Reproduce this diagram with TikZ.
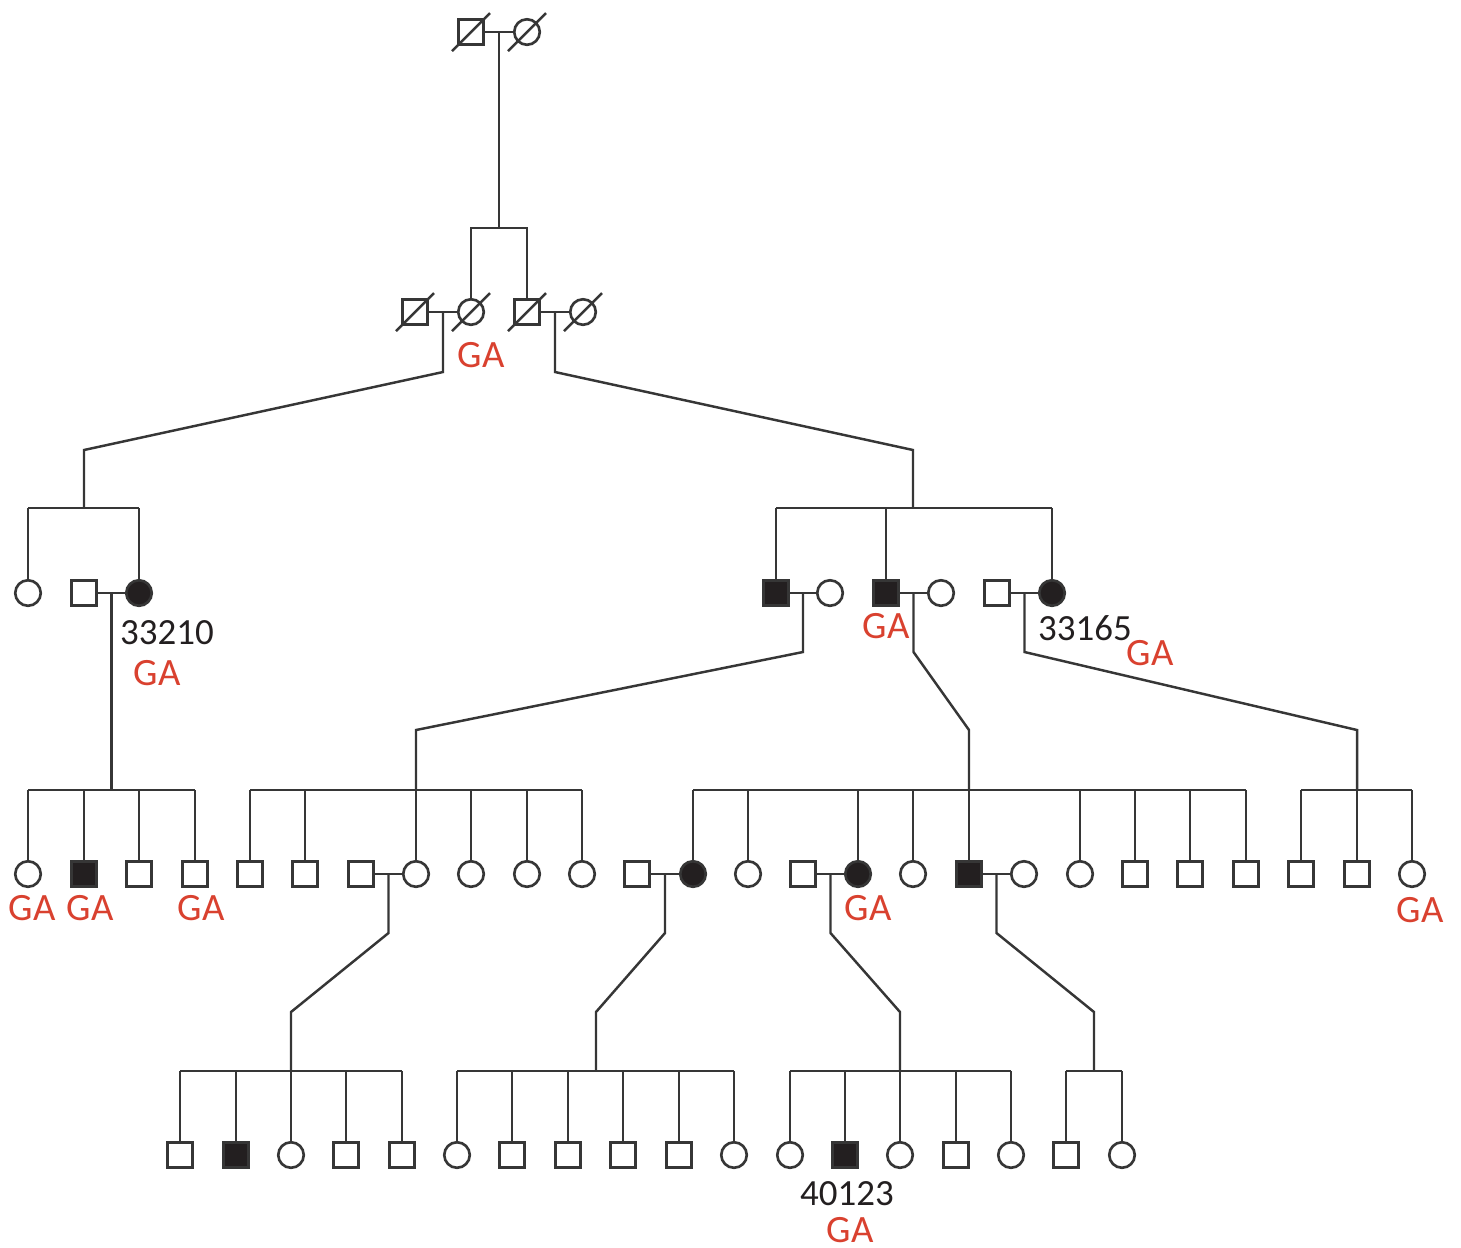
\documentclass[tikz,border=0pt]{standalone}
\usepackage{fontspec}
\setmainfont{Carlito}
\usetikzlibrary{calc}
\definecolor{pedgray}{HTML}{363636}
\definecolor{pedblack}{HTML}{231F20}
\definecolor{gared}{HTML}{D9412F}
\tikzset{
  person/.style={
    draw=pedgray,
    line width=0.75pt,
    minimum size=0.255cm,
    inner sep=0pt
  },
  male/.style={person, rectangle},
  female/.style={person, circle},
  affmale/.style={male, fill=pedblack},
  afffemale/.style={female, fill=pedblack},
  famline/.style={
    draw=pedgray,
    line width=0.7pt
  },
  galabel/.style={
    text=gared,
    inner sep=0pt,
    font=\fontsize{11}{12}\selectfont
  },
  idlabel/.style={
    text=pedblack,
    inner sep=0pt,
    font=\fontsize{10.5}{12}\selectfont
  }
}

\begin{document}
\begin{tikzpicture}[x=0.01cm, y=-0.01cm]
  \useasboundingbox (0,0) rectangle (1461,1247);

  % generation I
  \node[male]   (I1) at (471,32) {};
  \node[female] (I2) at (527,32) {};

  % generation II
  \node[male]   (II1) at (415,312) {};
  \node[female] (II2) at (471,312) {};
  \node[male]   (II3) at (527,312) {};
  \node[female] (II4) at (583,312) {};

  % generation III
  \node[female]    (III1) at (28,593) {};
  \node[male]      (III2) at (84,593) {};
  \node[afffemale] (III3) at (139,593) {};
  \node[affmale]   (III4) at (776,593) {};
  \node[female]    (III5) at (830,593) {};
  \node[affmale]   (III6) at (886,593) {};
  \node[female]    (III7) at (941,593) {};
  \node[male]      (III8) at (997,593) {};
  \node[afffemale] (III9) at (1052,593) {};

  % generation IV
  \node[female]    (IV1)  at (28,874) {};
  \node[affmale]   (IV2)  at (84,874) {};
  \node[male]      (IV3)  at (139,874) {};
  \node[male]      (IV4)  at (195,874) {};
  \node[male]      (IV5)  at (250,874) {};
  \node[male]      (IV6)  at (305,874) {};
  \node[male]      (IV7)  at (361,874) {};
  \node[female]    (IV8)  at (416,874) {};
  \node[female]    (IV9)  at (471,874) {};
  \node[female]    (IV10) at (527,874) {};
  \node[female]    (IV11) at (582,874) {};
  \node[male]      (IV12) at (637,874) {};
  \node[afffemale] (IV13) at (693,874) {};
  \node[female]    (IV14) at (748,874) {};
  \node[male]      (IV15) at (803,874) {};
  \node[afffemale] (IV16) at (858,874) {};
  \node[female]    (IV17) at (913,874) {};
  \node[affmale]   (IV18) at (969,874) {};
  \node[female]    (IV19) at (1024,874) {};
  \node[female]    (IV20) at (1080,874) {};
  \node[male]      (IV21) at (1135,874) {};
  \node[male]      (IV22) at (1190,874) {};
  \node[male]      (IV23) at (1246,874) {};
  \node[male]      (IV24) at (1301,874) {};
  \node[male]      (IV25) at (1357,874) {};
  \node[female]    (IV26) at (1412,874) {};

  % generation V
  \node[male]    (V1)  at (180,1155) {};
  \node[affmale] (V2)  at (236,1155) {};
  \node[female]  (V3)  at (291,1155) {};
  \node[male]    (V4)  at (346,1155) {};
  \node[male]    (V5)  at (402,1155) {};
  \node[female]  (V6)  at (457,1155) {};
  \node[male]    (V7)  at (512,1155) {};
  \node[male]    (V8)  at (568,1155) {};
  \node[male]    (V9)  at (623,1155) {};
  \node[male]    (V10) at (679,1155) {};
  \node[female]  (V11) at (734,1155) {};
  \node[female]  (V12) at (790,1155) {};
  \node[affmale] (V13) at (845,1155) {};
  \node[female]  (V14) at (900,1155) {};
  \node[male]    (V15) at (956,1155) {};
  \node[female]  (V16) at (1011,1155) {};
  \node[male]    (V17) at (1066,1155) {};
  \node[female]  (V18) at (1122,1155) {};

  % deceased
  \foreach \p in {I1,I2,II1,II2,II3,II4}
    \draw[famline] ([shift={(-19,19)}]\p.center) -- ([shift={(19,-19)}]\p.center);

  % marriages
  \foreach \a/\b in {I1/I2, II1/II2, II3/II4, III2/III3, III4/III5, III6/III7,
                     III8/III9, IV7/IV8, IV12/IV13, IV15/IV16, IV18/IV19}
    \draw[famline] (\a) -- (\b);

  % I -> II
  \coordinate (m1) at ($(I1)!0.5!(I2)$);
  \coordinate (s1) at (m1 |- 0,228);
  \draw[famline] (m1) -- (s1);
  \draw[famline] (II2) |- (s1) -| (II3);

  % II -> III
  \coordinate (m2) at ($(II1)!0.5!(II2)$);
  \coordinate (s2) at (84,508);
  \draw[famline] (m2) -- ++(0,60) -- (84,450) -- (s2);
  \draw[famline] (III1 |- s2) -- (III3 |- s2);
  \foreach \c in {III1,III3} \draw[famline] (\c) -- (\c |- s2);

  \coordinate (m3) at ($(II3)!0.5!(II4)$);
  \coordinate (s3) at (913,508);
  \draw[famline] (m3) -- ++(0,60) -- (913,450) -- (s3);
  \draw[famline] (III4 |- s3) -- (III9 |- s3);
  \foreach \c in {III4,III6,III9} \draw[famline] (\c) -- (\c |- s3);

  % III -> IV
  \coordinate (m4) at ($(III2)!0.5!(III3)$);
  \coordinate (s4) at (m4 |- 0,790);
  \draw[famline] (m4) -- (s4);
  \draw[famline] (IV1 |- s4) -- (IV4 |- s4);
  \foreach \c in {IV1,IV2,IV3,IV4} \draw[famline] (\c) -- (\c |- s4);

  \coordinate (m5) at ($(III4)!0.5!(III5)$);
  \coordinate (s5) at (416,790);
  \draw[famline] (m5) -- ++(0,59) -- (416,730) -- (s5);
  \draw[famline] (IV5 |- s5) -- (IV11 |- s5);
  \foreach \c in {IV5,IV6,IV8,IV9,IV10,IV11} \draw[famline] (\c) -- (\c |- s5);

  \coordinate (m6) at ($(III6)!0.5!(III7)$);
  \coordinate (s6) at (969,790);
  \draw[famline] (m6) -- ++(0,59) -- (969,730) -- (s6);
  \draw[famline] (IV13 |- s6) -- (IV23 |- s6);
  \foreach \c in {IV13,IV14,IV16,IV17,IV18,IV20,IV21,IV22,IV23}
    \draw[famline] (\c) -- (\c |- s6);

  \coordinate (m7) at ($(III8)!0.5!(III9)$);
  \coordinate (s7) at (1357,790);
  \draw[famline] (m7) -- ++(0,59) -- (1357,730) -- (s7);
  \draw[famline] (IV24 |- s7) -- (IV26 |- s7);
  \foreach \c in {IV24,IV25,IV26} \draw[famline] (\c) -- (\c |- s7);

  % IV -> V
  \coordinate (m8) at ($(IV7)!0.5!(IV8)$);
  \coordinate (s8) at (291,1071);
  \draw[famline] (m8) -- ++(0,59) -- (291,1012) -- (s8);
  \draw[famline] (V1 |- s8) -- (V5 |- s8);
  \foreach \c in {V1,V2,V3,V4,V5} \draw[famline] (\c) -- (\c |- s8);

  \coordinate (m9) at ($(IV12)!0.5!(IV13)$);
  \coordinate (s9) at (596,1071);
  \draw[famline] (m9) -- ++(0,59) -- (596,1012) -- (s9);
  \draw[famline] (V6 |- s9) -- (V11 |- s9);
  \foreach \c in {V6,V7,V8,V9,V10,V11} \draw[famline] (\c) -- (\c |- s9);

  \coordinate (m10) at ($(IV15)!0.5!(IV16)$);
  \coordinate (s10) at (900,1071);
  \draw[famline] (m10) -- ++(0,59) -- (900,1012) -- (s10);
  \draw[famline] (V12 |- s10) -- (V16 |- s10);
  \foreach \c in {V12,V13,V14,V15,V16} \draw[famline] (\c) -- (\c |- s10);

  \coordinate (m11) at ($(IV18)!0.5!(IV19)$);
  \coordinate (s11) at (1094,1071);
  \draw[famline] (m11) -- ++(0,59) -- (1094,1012) -- (s11);
  \draw[famline] (V17 |- s11) -- (V18 |- s11);
  \foreach \c in {V17,V18} \draw[famline] (\c) -- (\c |- s11);

  % labels
  \node[galabel] (gaII2)  at (481,355)  {GA};
  \node[idlabel] (idIII3) at (167,633)  {33210};
  \node[galabel] (gaIII3) at (157,673)  {GA};
  \node[galabel] (gaIII6) at (886,626)  {GA};
  \node[idlabel] (idIII9) at (1085,628) {33165};
  \node[galabel] (gaIII9) at (1150,653) {GA};
  \node[galabel] (gaIV1)  at (32,908)   {GA};
  \node[galabel] (gaIV2)  at (90,908)   {GA};
  \node[galabel] (gaIV4)  at (201,908)  {GA};
  \node[galabel] (gaIV16) at (868,908)  {GA};
  \node[galabel] (gaIV26) at (1420,910) {GA};
  \node[idlabel] (idV13)  at (847,1194) {40123};
  \node[galabel] (gaV13)  at (850,1230) {GA};
\end{tikzpicture}
\end{document}
